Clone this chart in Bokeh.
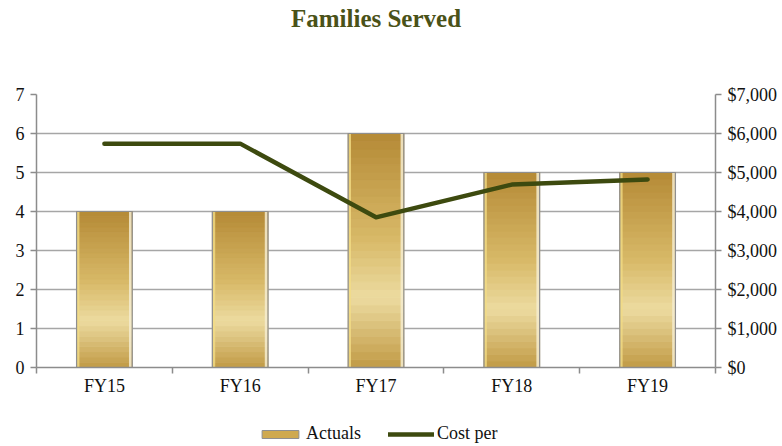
import numpy as np
from bokeh.plotting import figure
from bokeh.layouts import column
from bokeh.models import (Range1d, LinearAxis, FixedTicker, NumeralTickFormatter,
                          Legend, LegendItem, Label)
from bokeh.embed import file_html
from bokeh.resources import INLINE

title_text = "Families Served"
categories = ["FY15", "FY16", "FY17", "FY18", "FY19"]
actuals = [4, 4, 6, 5, 5]
cost_per = [5740, 5740, 3850, 4690, 4820]
legend_labels = ["Actuals", "Cost per"]

FONT = "Liberation Serif"
GRID = "#a6a6a6"
AXIS = "#8c8c8c"
OLIVE = "#3d4a0f"
W = 782

xs = list(range(len(categories)))
x_lo, x_hi = -0.5, len(categories) - 0.5

# ---- title strip ----
pt = figure(width=W, height=36, output_backend="svg", toolbar_location=None,
            x_range=Range1d(x_lo, x_hi), y_range=Range1d(0, 1), x_axis_type=None,
            y_axis_type=None, min_border=0)
pt.outline_line_color = None
pt.grid.visible = False
pt.add_layout(Label(x=(x_lo + x_hi) / 2, y=0.5, text=title_text, text_align="center",
                    text_baseline="middle", text_font=FONT, text_font_size="25px",
                    text_font_style="bold", text_color="#4a5218"))

# ---- main chart ----
p = figure(frame_width=679, frame_height=273, output_backend="svg", toolbar_location=None,
           x_range=Range1d(x_lo, x_hi), y_range=Range1d(0, 7),
           min_border_left=36, min_border_right=67, min_border_top=58, min_border_bottom=40)
p.outline_line_color = None
p.extra_y_ranges = {"cost": Range1d(0, 7000)}

def lerp(c1, c2, f):
    a = np.array([int(c1[i:i+2], 16) for i in (1, 3, 5)])
    b = np.array([int(c2[i:i+2], 16) for i in (1, 3, 5)])
    c = (a + (b - a) * f).round().astype(int)
    return "#%02x%02x%02x" % tuple(c)

N = 30
stops = [(0.0, "#c19a45"), (0.3, "#ecdba0"), (0.55, "#d8b968"), (1.0, "#b58a36")]
def grad(f):
    for (f0, c0), (f1, c1) in zip(stops[:-1], stops[1:]):
        if f0 <= f <= f1:
            return lerp(c0, c1, (f - f0) / (f1 - f0))
    return stops[-1][1]

bw = 0.41
for i in range(N):
    f0 = i / N
    f1 = (i + 1) / N
    col = grad((f0 + f1) / 2)
    p.vbar(x=xs, width=bw, bottom=[v * f0 for v in actuals], top=[v * f1 for v in actuals],
           fill_color=col, line_color=col, line_width=0.8)
p.vbar(x=[x - bw / 2 + 0.012 for x in xs], width=0.018, bottom=0, top=actuals,
       fill_color="#f3dc84", fill_alpha=0.8, line_color=None)
p.vbar(x=[x + bw / 2 - 0.014 for x in xs], width=0.02, bottom=0, top=actuals,
       fill_color="#f4ecd0", fill_alpha=0.85, line_color=None)
p.vbar(x=xs, width=bw, bottom=0, top=actuals, fill_color=None,
       line_color="#8f8f8f", line_width=1.2)

p.line(x=xs, y=cost_per, y_range_name="cost", line_color=OLIVE, line_width=4.5,
       line_cap="round", line_join="round")

p.yaxis.ticker = FixedTicker(ticks=list(range(0, 8)))
p.ygrid.ticker = FixedTicker(ticks=list(range(1, 8)))
p.ygrid.grid_line_color = GRID
p.ygrid.grid_line_width = 1.5
p.xgrid.grid_line_color = None

def style_y(ax):
    ax.axis_line_color = AXIS
    ax.axis_line_width = 1.5
    ax.major_tick_line_color = AXIS
    ax.major_tick_line_width = 1.5
    ax.major_tick_out = 6
    ax.major_tick_in = 0
    ax.minor_tick_line_color = None
    ax.major_label_text_font = FONT
    ax.major_label_text_font_size = "18px"
    ax.major_label_text_color = "#111111"
    ax.major_label_standoff = 6

style_y(p.yaxis[0])

ra = LinearAxis(y_range_name="cost", ticker=FixedTicker(ticks=[k * 1000 for k in range(8)]),
                formatter=NumeralTickFormatter(format="$0,0"))
style_y(ra)
p.add_layout(ra, "right")

xa = p.xaxis[0]
xa.ticker = FixedTicker(ticks=xs, minor_ticks=[x - 0.5 for x in xs] + [xs[-1] + 0.5])
xa.major_label_overrides = {x: c for x, c in zip(xs, categories)}
xa.axis_line_color = AXIS
xa.axis_line_width = 1.5
xa.major_tick_line_color = None
xa.major_tick_out = 0
xa.major_tick_in = 0
xa.minor_tick_line_color = AXIS
xa.minor_tick_line_width = 1.5
xa.minor_tick_out = 6
xa.minor_tick_in = 0
xa.major_label_text_font = FONT
xa.major_label_text_font_size = "18px"
xa.major_label_text_color = "#111111"
xa.major_label_standoff = 2

# ---- legend strip (proxy renderers kept outside the visible range) ----
pl = figure(width=W, height=39, output_backend="svg", toolbar_location=None,
            x_range=Range1d(0, 1), y_range=Range1d(0, 1), x_axis_type=None,
            y_axis_type=None, min_border=0)
pl.outline_line_color = None
pl.grid.visible = False
lg_bar = pl.vbar(x=[0.5], width=0.1, bottom=[-3], top=[-2], fill_color="#cfa94f",
                 line_color="#8f8f8f", line_width=1)
lg_line = pl.line(x=[0, 1], y=[-3, -3], line_color=OLIVE, line_width=4.5, line_cap="round")
legend = Legend(items=[LegendItem(label=legend_labels[0], renderers=[lg_bar]),
                       LegendItem(label=legend_labels[1], renderers=[lg_line])],
                orientation="horizontal", location=(221, 2),
                label_text_font=FONT, label_text_font_size="18px",
                label_text_color="#111111", border_line_color=None,
                background_fill_alpha=0, label_height=18,
                glyph_width=46, glyph_height=10, spacing=27, label_standoff=3,
                margin=0, padding=0)
pl.add_layout(legend)

layout = column(pt, p, pl, spacing=0)
open("out.html", "w").write(file_html(layout, INLINE))
